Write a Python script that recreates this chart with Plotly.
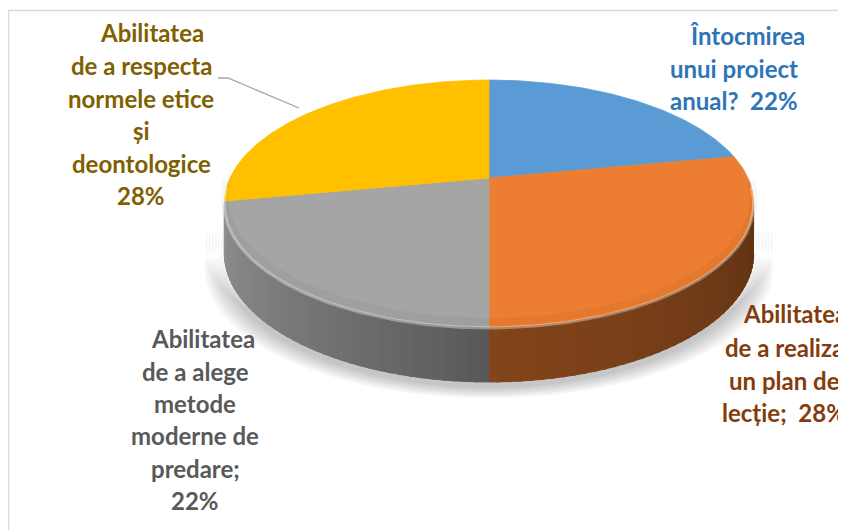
import math
import plotly.graph_objects as go

# ---------------- data ----------------
categories = [
    "Întocmirea unui proiect anual?",
    "Abilitatea de a realiza un plan de lecție;",
    "Abilitatea de a alege metode moderne de predare;",
    "Abilitatea de a respecta normele etice și deontologice",
]
values = [22, 28, 22, 28]
label_lines = [
    ["Întocmirea", "unui proiect", "anual?  {p}%"],
    ["Abilitatea", "de a realiza", "un plan de", "lecție;  {p}%"],
    ["Abilitatea", "de a alege", "metode", "moderne de", "predare;", "{p}%"],
    ["Abilitatea", "de a respecta", "normele etice", "și", "deontologice", "{p}%"],
]
slice_colors = ["#5b9bd5", "#ed7d31", "#a5a5a5", "#ffc000"]
label_colors = ["#2e75b6", "#843c0c", "#595959", "#7f6000"]

# ---------------- geometry / style ----------------
W, H = 846, 530
OFF = 8                 # page body margin
CX, CY = 489, 178      # apex of the pie on screen
R, A, K = 259, 118.2, 0.2065   # horizontal radius, vertical scale, perspective
DEPTH = 55
FONT = "Lato"
FS = 24

# label placement: (center x of lines, first line offset, list of y)
label_pos = [
    (734, 13, [35, 68, 100]),
    (784, 11, [313, 347, 380, 412]),
    (195, 8, [338, 371, 403, 435, 468, 500]),
    (141, 11, [32, 65, 98, 130, 163, 195]),
]


def proj(theta_deg, down=False):
    t = math.radians(theta_deg)
    X, Z = math.sin(t), -math.cos(t)
    s = 1.0 / (1.0 - K * Z)
    x = CX + R * X * s
    y = CY + A * Z * s
    if down:
        y += DEPTH * math.sqrt(s / (1.0 / (1.0 - K)))
    return x, y


def shade(hexcol, f):
    h = hexcol.lstrip("#")
    r, g, b = (int(h[i:i + 2], 16) for i in (0, 2, 4))
    return "rgb(%d,%d,%d)" % (min(255, r * f), min(255, g * f), min(255, b * f))


def arc(a, b, n=80, down=False):
    return [proj(a + (b - a) * i / n, down) for i in range(n + 1)]


total = sum(values)
bounds = []
acc = 0.0
for v in values:
    a = acc / total * 360
    acc += v
    bounds.append((a, acc / total * 360))

fig = go.Figure()

# soft shadow beneath the pie
for i in range(6):
    grow = 1 + 0.012 * (6 - i)
    pts = arc(95, 265, 120, down=True)
    xs = [CX + (x - CX) * grow for x, y in pts]
    ys = [y + 4 + 2 * (6 - i) for x, y in pts]
    top = arc(265, 95, 120, down=False)
    xs += [CX + (x - CX) * grow for x, y in top]
    ys += [y + 40 for x, y in top]
    fig.add_trace(go.Scatter(x=xs, y=ys, fill="toself", mode="none",
                             fillcolor="rgba(0,0,0,0.04)", hoverinfo="skip",
                             showlegend=False))

# side walls (visible front arc between the silhouette points)
sil_r = math.degrees(math.acos(-K))          # ~101.9
sil_l = 360 - sil_r                           # ~258.1
for idx, (a, b) in enumerate(bounds):
    lo, hi = max(a, sil_r), min(b, sil_l)
    if hi <= lo:
        continue
    nstrip = 40
    for j in range(nstrip):
        t0 = lo + (hi - lo) * j / nstrip
        t1 = min(hi, lo + (hi - lo) * (j + 1) / nstrip + 0.6)
        tm = (t0 + t1) / 2
        # lighting: lighter toward the left silhouette, darker toward front / right
        if tm >= 180:
            f = 0.52 + 0.36 * ((tm - 180) / (sil_l - 180)) ** 0.8
        else:
            f = 0.55 - 0.15 * ((180 - tm) / (180 - sil_r)) ** 1.2
        top = arc(t0, t1, 4)
        bot = arc(t1, t0, 4, down=True)
        pts = top + bot
        col = shade(slice_colors[idx], f)
        fig.add_trace(go.Scatter(x=[p[0] for p in pts], y=[p[1] for p in pts],
                                 fill="toself", mode="lines",
                                 line=dict(color=col, width=1),
                                 fillcolor=col, hoverinfo="skip", showlegend=False))

# top faces
for idx, (a, b) in enumerate(bounds):
    pts = [(CX, CY)] + arc(a, b, 120) + [(CX, CY)]
    fig.add_trace(go.Scatter(x=[p[0] for p in pts], y=[p[1] for p in pts],
                             fill="toself", mode="lines",
                             line=dict(color=slice_colors[idx], width=0.8),
                             fillcolor=slice_colors[idx],
                             name=categories[idx],
                             text="%s %d%%" % (categories[idx], values[idx]),
                             hoverinfo="text", showlegend=False))

# bevel highlight along front rim
for w, c, dy in [(8, "rgba(0,0,0,0.035)", -5), (3, "rgba(255,255,255,0.35)", 1)]:
    pts = arc(sil_r - 8, sil_l + 8, 160)
    fig.add_trace(go.Scatter(x=[p[0] for p in pts], y=[p[1] + dy for p in pts],
                             mode="lines", line=dict(color=c, width=w),
                             hoverinfo="skip", showlegend=False))

# labels
annotations = []
for idx, lines in enumerate(label_lines):
    cxl, off, ys = label_pos[idx]
    for li, (txt, yy) in enumerate(zip(lines, ys)):
        annotations.append(dict(
            x=cxl + (off if li == 0 else 0), y=yy, xref="x", yref="y",
            text="<b>%s</b>" % txt.format(p=values[idx]), showarrow=False,
            xanchor="center", yanchor="middle",
            font=dict(family=FONT, size=FS, color=label_colors[idx])))

shapes = [
    # leader line for the yellow label
    dict(type="path", path="M 218 78 L 228 78 L 299 108", xref="x", yref="y",
         line=dict(color="#a6a6a6", width=1.3)),
    # chart border (top + left)
    dict(type="line", x0=8, x1=846, y0=10.5, y1=10.5, xref="x", yref="y",
         line=dict(color="#d9d9d9", width=1.3)),
    dict(type="line", x0=8.6, x1=8.6, y0=10, y1=530, xref="x", yref="y",
         line=dict(color="#d9d9d9", width=1.3)),
]

fig.update_layout(
    width=W - OFF, height=H - OFF,
    margin=dict(l=0, r=0, t=0, b=0),
    paper_bgcolor="white", plot_bgcolor="white",
    xaxis=dict(range=[OFF, W], visible=False, fixedrange=True),
    yaxis=dict(range=[H, OFF], visible=False, fixedrange=True),
    annotations=annotations, shapes=shapes,
    showlegend=False,
)

fig.write_html("out.html")
